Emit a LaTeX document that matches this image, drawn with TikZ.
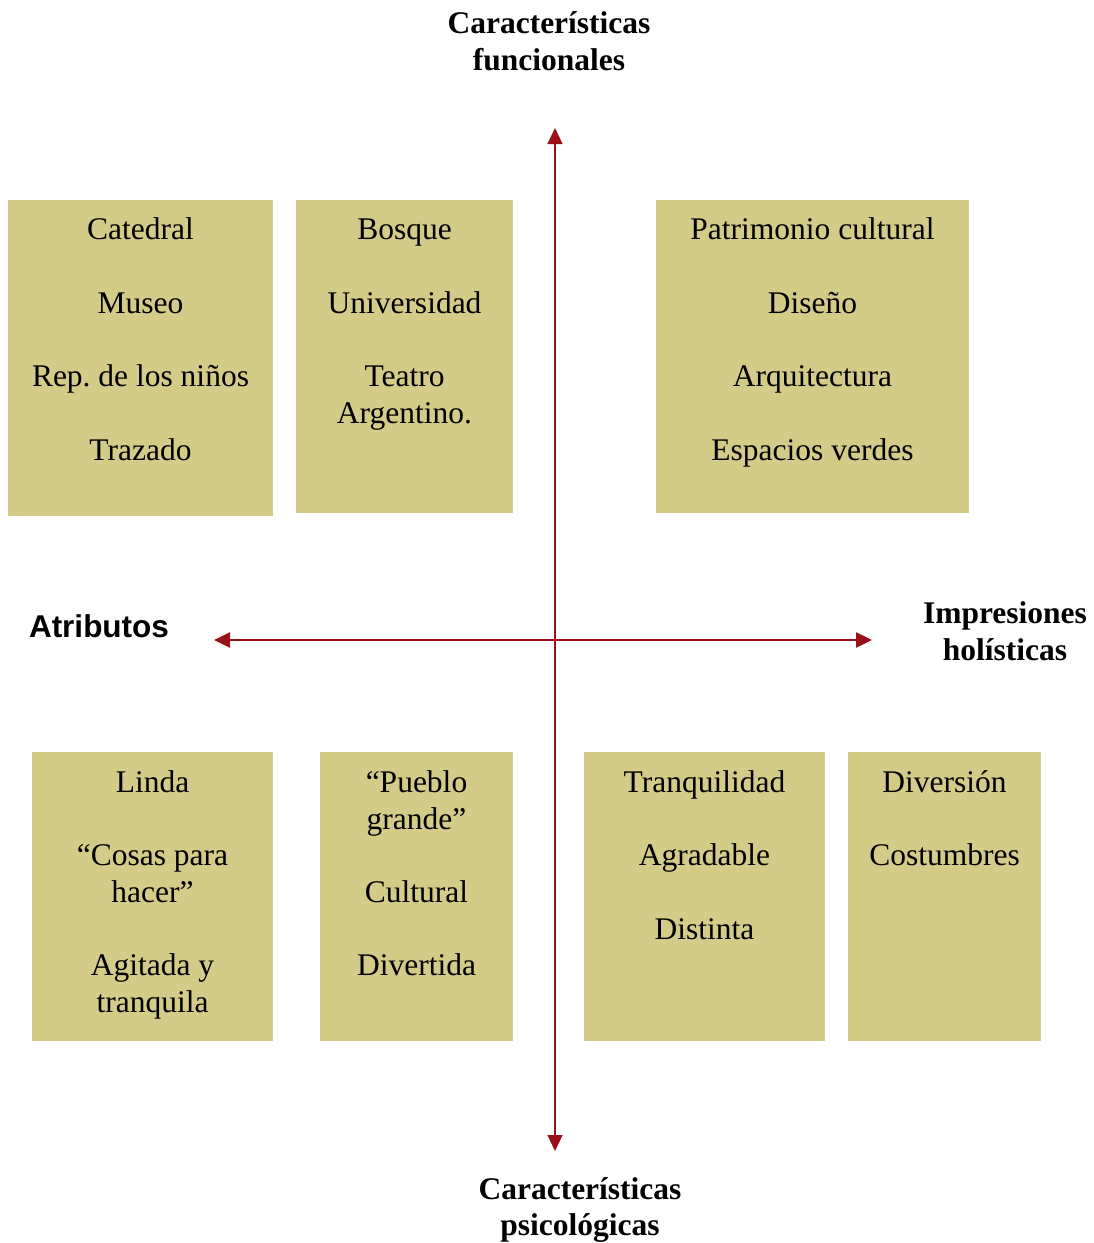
\documentclass[tikz,border=0pt]{standalone}
\usepackage{fontspec}
\setmainfont{Liberation Serif}
\setsansfont{Liberation Sans}
\frenchspacing
\usetikzlibrary{arrows.meta}
\definecolor{boxfill}{HTML}{D4CB88}
\definecolor{axisred}{HTML}{9A1118}
\tikzset{
  cell/.style={draw=none, fill=boxfill, rectangle, inner sep=0pt, outer sep=0pt, anchor=north west},
  txt/.style={font=\fontsize{31.5bp}{37bp}\selectfont, inner sep=0pt, anchor=base},
  ttl/.style={font=\fontsize{31.5bp}{37bp}\selectfont\bfseries, inner sep=0pt, anchor=base},
  stl/.style={font=\fontsize{31.5bp}{37bp}\selectfont\sffamily\bfseries, inner sep=0pt, anchor=base},
  axisv/.style={draw=axisred, line width=1.1bp, {Triangle[length=16bp,width=15bp]}-{Triangle[length=16bp,width=15bp]}},
  axish/.style={draw=axisred, line width=2.4bp, {Triangle[length=16bp,width=15bp]}-{Triangle[length=16bp,width=15bp]}}
}
\begin{document}
\begin{tikzpicture}[x=1bp,y=-1bp]
\useasboundingbox (0,0) rectangle (1094,1243);
% boxes
\node[cell, minimum width=265bp, minimum height=316bp] (b1) at (8,200) {};
\node[cell, minimum width=217bp, minimum height=313bp] (b2) at (296,200) {};
\node[cell, minimum width=313bp, minimum height=313bp] (b3) at (656,200) {};
\node[cell, minimum width=241bp, minimum height=289bp] (b4) at (32,752) {};
\node[cell, minimum width=193bp, minimum height=289bp] (b5) at (320,752) {};
\node[cell, minimum width=241bp, minimum height=289bp] (b6) at (584,752) {};
\node[cell, minimum width=193bp, minimum height=289bp] (b7) at (848,752) {};
% box 1
\node[txt] (t11) at (140.5,239) {Catedral};
\node[txt] (t12) at (140.5,313) {Museo};
\node[txt] (t13) at (140.5,386) {Rep.\ de los niños};
\node[txt] (t14) at (140.5,460) {Trazado};
% box 2
\node[txt] (t21) at (404.5,239) {Bosque};
\node[txt] (t22) at (404.5,313) {Universidad};
\node[txt] (t23) at (404.5,386) {Teatro};
\node[txt] (t24) at (404.5,423) {Argentino.};
% box 3
\node[txt] (t31) at (812.5,239) {Patrimonio cultural};
\node[txt] (t32) at (812.5,313) {Diseño};
\node[txt] (t33) at (812.5,386) {Arquitectura};
\node[txt] (t34) at (812.5,460) {Espacios verdes};
% box 4
\node[txt] (t41) at (152.5,792) {Linda};
\node[txt] (t42) at (152.5,865) {“Cosas para};
\node[txt] (t43) at (152.5,902) {hacer”};
\node[txt] (t44) at (152.5,975) {Agitada y};
\node[txt] (t45) at (152.5,1012) {tranquila};
% box 5
\node[txt] (t51) at (416.5,792) {“Pueblo};
\node[txt] (t52) at (416.5,829) {grande”};
\node[txt] (t53) at (416.5,902) {Cultural};
\node[txt] (t54) at (416.5,975) {Divertida};
% box 6
\node[txt] (t61) at (704.5,792) {Tranquilidad};
\node[txt] (t62) at (704.5,865) {Agradable};
\node[txt] (t63) at (704.5,939) {Distinta};
% box 7
\node[txt] (t71) at (944.5,792) {Diversión};
\node[txt] (t72) at (944.5,865) {Costumbres};
% axes
\coordinate (vtop) at (555,128);
\coordinate (vbot) at (555,1151);
\coordinate (hleft) at (214,640);
\coordinate (hright) at (872,640);
\draw[axisv] (vtop) -- (vbot);
\draw[axish] (hleft) -- (hright);
% axis labels
\node[ttl] (lf1) at (549,33) {Características};
\node[ttl] (lf2) at (549,70) {funcionales};
\node[ttl] (lp1) at (580,1199) {Características};
\node[ttl] (lp2) at (580,1235) {psicológicas};
\node[ttl] (lh1) at (1005,623) {Impresiones};
\node[ttl] (lh2) at (1005,660) {holísticas};
\node[stl] (la) at (99,637) {Atributos};
\end{tikzpicture}
\end{document}
